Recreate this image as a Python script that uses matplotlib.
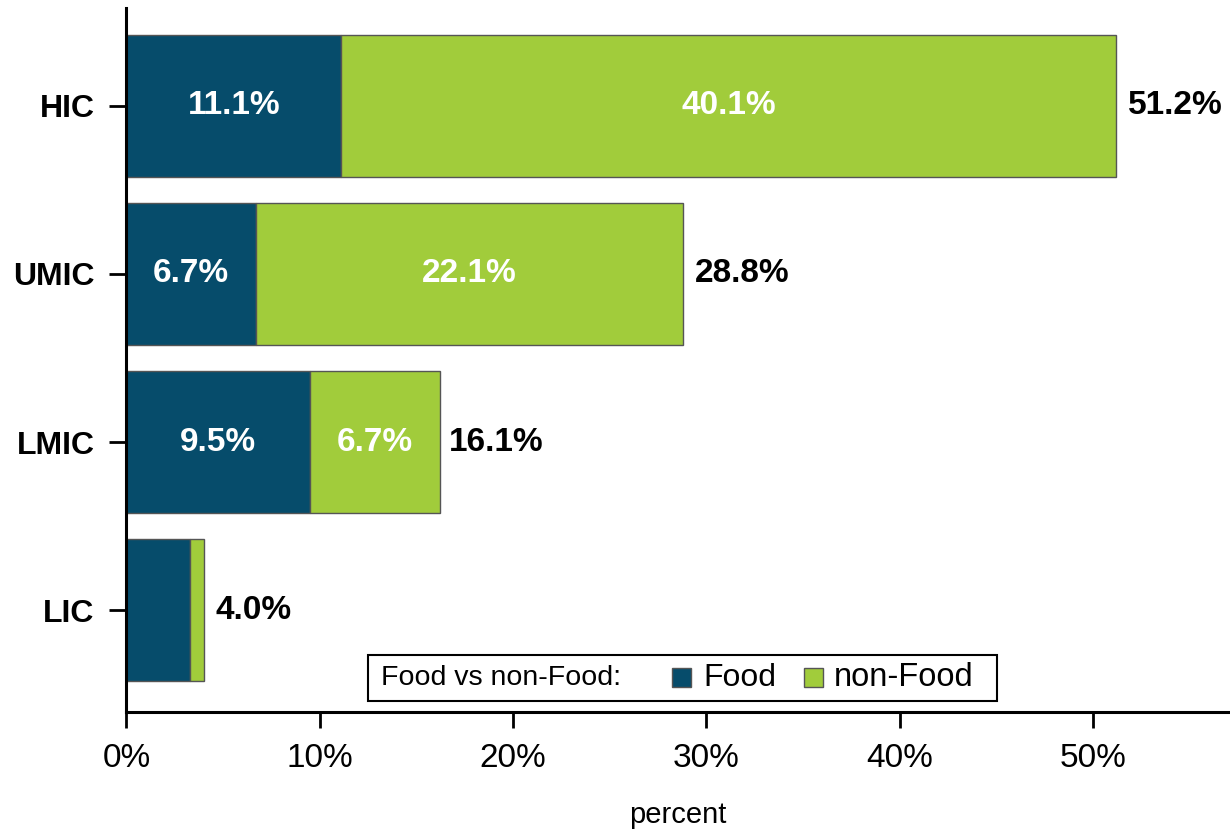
import matplotlib
matplotlib.use("Agg")
import matplotlib.pyplot as plt
from matplotlib.offsetbox import AnchoredOffsetbox, HPacker, TextArea, DrawingArea
from matplotlib.patches import Rectangle

plt.rcParams['font.family'] = ['Liberation Sans', 'DejaVu Sans']

# Data (bottom to top)
groups = ['LIC', 'LMIC', 'UMIC', 'HIC']
food = [3.3, 9.5, 6.7, 11.1]
non_food = [0.7, 6.7, 22.1, 40.1]
totals = [4.0, 16.1, 28.8, 51.2]
xticks = [0, 10, 20, 30, 40, 50]

food_color = '#064C6B'
nonfood_color = '#A1CC3B'
edge = '#555555'

fig = plt.figure(figsize=(12.3, 8.32), dpi=100)
ax = fig.add_axes([0.1028, 0.1442, 0.8972, 0.8462])

ypos = list(range(len(groups)))
ax.barh(ypos, food, height=0.845, color=food_color, edgecolor=edge, linewidth=1)
ax.barh(ypos, non_food, left=food, height=0.845, color=nonfood_color, edgecolor=edge, linewidth=1)

# labels inside the segments
for y, f, n in zip(ypos, food, non_food):
    if f >= 5:
        ax.text(f / 2, y, f'{f:.1f}%', ha='center', va='center', color='white',
                fontsize=24, fontweight='bold')
    if n >= 5:
        ax.text(f + n / 2, y, f'{n:.1f}%', ha='center', va='center', color='white',
                fontsize=24, fontweight='bold')

# totals
for y, t in zip(ypos, totals):
    ax.text(t + 0.6, y, f'{t:.1f}%', ha='left', va='center', color='black',
            fontsize=24, fontweight='bold')

ax.set_xlim(0, 57.1)
ax.set_ylim(-0.607, 3.583)
ax.set_xticks(xticks)
ax.set_xticklabels([f'{v}%' for v in xticks], fontsize=24)
ax.set_yticks(ypos)
ax.set_yticklabels(groups, fontsize=23, fontweight='bold')
ax.set_xlabel('percent', fontsize=21, labelpad=19)

for s in ['top', 'right']:
    ax.spines[s].set_visible(False)
for s in ['left', 'bottom']:
    ax.spines[s].set_linewidth(2.2)
ax.tick_params(axis='x', length=11.5, width=2, pad=11)
ax.tick_params(axis='y', length=12, width=2, pad=11)

# legend box with inline title
def swatch(color):
    da = DrawingArea(13.7, 13.7, 0, 0)
    da.add_artist(Rectangle((0, 0), 13.7, 13.7, facecolor=color, edgecolor=edge, linewidth=1))
    return da

def spacer(w):
    return DrawingArea(w, 1, 0, 0)

title = TextArea('Food vs non-Food:', textprops=dict(fontsize=20.5))
item1 = HPacker(children=[swatch(food_color), TextArea('Food', textprops=dict(fontsize=23))],
                sep=9, align='center')
item2 = HPacker(children=[swatch(nonfood_color), TextArea('non-Food', textprops=dict(fontsize=23.5))],
                sep=8, align='center')
items = HPacker(children=[item1, item2], sep=20, align='center')
inner = HPacker(children=[title, items], sep=36, align='center')
box = HPacker(children=[spacer(4.3), inner, spacer(11.5)], sep=0, align='center')

anchored = AnchoredOffsetbox(loc='lower center', child=box, pad=0.55, borderpad=0.8,
                             frameon=True, prop=dict(size=10),
                             bbox_to_anchor=(0.504, 0), bbox_transform=ax.transAxes)
anchored.patch.set_boxstyle('square,pad=0')
anchored.patch.set_edgecolor('black')
anchored.patch.set_linewidth(1.5)
ax.add_artist(anchored)

fig.savefig('out.png', dpi=100)
